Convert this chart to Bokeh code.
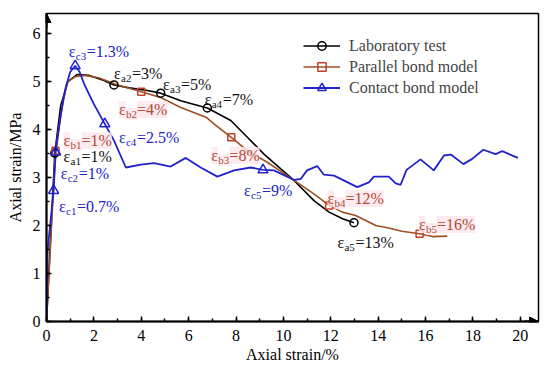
from bokeh.plotting import figure
from bokeh.models import (ColumnDataSource, Legend, LegendItem, Arrow, NormalHead,
                          SingleIntervalTicker, Range1d)
from bokeh.core.properties import value
from bokeh.embed import file_html
from bokeh.resources import INLINE

# ---------------- data ----------------
lab_x = [0, 0.1, 0.35, 0.6, 0.9, 1.3, 1.8, 2.4, 2.85, 3.5, 4.2, 4.82, 5.67, 6.2, 6.79,
         7.78, 8.48, 9.18, 9.89, 10.45, 11.29, 11.93, 12.5, 12.98]
lab_y = [0, 1.0, 3.51, 4.5, 5.0, 5.15, 5.13, 5.03, 4.93, 4.87, 4.82, 4.76, 4.6, 4.53, 4.45,
         4.19, 3.84, 3.49, 3.18, 2.94, 2.52, 2.28, 2.14, 2.06]

par_x = [0, 0.1, 0.38, 0.7, 0.9, 1.2, 1.6, 2.2, 3.0, 4.0, 4.82, 5.67, 6.76, 7.07, 7.8,
         8.48, 9.32, 10.45, 11.29, 11.93, 12.49, 13.05, 13.9, 14.45, 15.0, 15.75, 16.29, 16.92]
par_y = [0, 0.95, 3.56, 4.6, 5.0, 5.1, 5.13, 5.08, 4.93, 4.79, 4.67, 4.46, 4.25, 4.12, 3.84,
         3.56, 3.32, 2.94, 2.66, 2.42, 2.28, 2.21, 2.0, 1.95, 1.88, 1.83, 1.77, 1.78]

con_x = [0, 0.05, 0.3, 0.39, 0.6, 0.81, 1.0, 1.21, 1.4, 1.59, 2.0, 2.46, 2.85, 3.35, 3.98,
         4.54, 5.24, 5.88, 6.51, 7.21, 7.92, 8.62, 9.14, 9.6, 10.45, 10.73, 11.0, 11.43, 11.71,
         12.14, 13.12, 13.61, 13.82, 14.45, 14.74, 14.95, 15.2, 15.79, 16.35, 16.78, 17.07,
         17.6, 17.97, 18.44, 18.96, 19.24, 19.9]
con_y = [0, 1.5, 2.73, 3.53, 4.3, 4.88, 5.2, 5.33, 5.2, 4.95, 4.53, 4.12, 3.77, 3.21, 3.27,
         3.3, 3.23, 3.41, 3.21, 3.02, 3.15, 3.21, 3.16, 3.15, 2.95, 2.97, 3.15, 3.24, 3.06,
         3.04, 2.8, 2.9, 3.02, 3.02, 2.88, 2.85, 3.16, 3.38, 3.15, 3.46, 3.48,
         3.28, 3.39, 3.58, 3.49, 3.55, 3.41]

lab_mx = [0.35, 2.85, 4.82, 6.79, 12.98]
lab_my = [3.51, 4.93, 4.76, 4.45, 2.06]
par_mx = [0.38, 4.0, 7.8, 11.93, 15.75]
par_my = [3.56, 4.79, 3.84, 2.42, 1.83]
con_mx = [0.3, 0.39, 1.21, 2.46, 9.14]
con_my = [2.73, 3.53, 5.33, 4.12, 3.16]

# annotation labels
lab_tx = [0.72, 2.85, 4.92, 6.68, 12.28]
lab_ty = [3.44, 5.16, 4.95, 4.62, 1.65]
lab_sub = ["a1", "a2", "a3", "a4", "a5"]
lab_val = ["=1%", "=3%", "=5%", "=7%", "=13%"]

par_tx = [0.72, 3.06, 6.96, 11.86, 15.72]
par_ty = [3.77, 4.42, 3.46, 2.56, 2.02]
par_sub = ["b1", "b2", "b3", "b4", "b5"]
par_val = ["=1%", "=4%", "=8%", "=12%", "=16%"]

con_tx = [0.53, 0.6, 0.94, 3.06, 8.34]
con_ty = [2.4, 3.08, 5.63, 3.84, 2.73]
con_sub = ["c1", "c2", "c3", "c4", "c5"]
con_val = ["=0.7%", "=1%", "=1.3%", "=2.5%", "=9%"]

series_names = ["Laboratory test", "Parallel bond model", "Contact bond model"]

X_END, Y_END = 20.77, 6.42

BLACK = "#000000"
BROWN = "#9c4f22"
BROWN_M = "#c4402a"
BROWN_T = "#b24a30"
BLUE = "#2222cc"
FONT = "Liberation Serif"

p = figure(width=550, height=373, x_range=Range1d(0, X_END), y_range=Range1d(0, Y_END),
           output_backend="svg", toolbar_location=None,
           min_border_left=46, min_border_right=12, min_border_top=13, min_border_bottom=52)
p.grid.visible = False
p.outline_line_color = "black"
p.outline_line_width = 1.5
p.background_fill_color = "white"
p.border_fill_color = "white"

p.xaxis.ticker = SingleIntervalTicker(interval=2, num_minor_ticks=2)
p.yaxis.ticker = SingleIntervalTicker(interval=1, num_minor_ticks=2)
for ax in (p.xaxis[0], p.yaxis[0]):
    ax.axis_line_width = 2
    ax.major_tick_in = 5
    ax.major_tick_out = 0
    ax.minor_tick_in = 3
    ax.minor_tick_out = 0
    ax.major_tick_line_width = 1.5
    ax.minor_tick_line_width = 1.5
    ax.major_label_text_font = FONT
    ax.major_label_text_font_size = "16px"
    ax.major_label_text_color = "black"
    ax.axis_label_text_font = FONT
    ax.axis_label_text_font_size = "16px"
    ax.axis_label_text_font_style = "normal"
    ax.axis_label_text_color = "black"
p.xaxis.axis_label = "Axial strain/%"
p.yaxis.axis_label = "Axial strain/MPa"
p.xaxis.major_label_standoff = 8
p.xaxis.axis_label_standoff = 2
p.yaxis.major_label_standoff = 6
p.yaxis.axis_label_standoff = 6

# curves
l1 = p.line(lab_x, lab_y, line_color=BLACK, line_width=1.6)
l2 = p.line(par_x, par_y, line_color=BROWN, line_width=1.6)
l3 = p.line(con_x, con_y, line_color=BLUE, line_width=1.8)
m1 = p.scatter(lab_mx, lab_my, marker="circle", size=8, line_color=BLACK, fill_color=None, line_width=1.5)
m2 = p.scatter(par_mx, par_my, marker="square", size=7, line_color=BROWN_M, fill_color=None, line_width=1.5)
m3 = p.scatter(con_mx, con_my, marker="triangle", size=10, line_color=BLUE, fill_color=None, line_width=1.5)


def eps_labels(xs, ys, subs, vals, color, bg=None):
    src = ColumnDataSource(dict(x=xs, y=ys, sub=subs, val=vals, eps=["ε"] * len(xs)))
    common = dict(x="x", y="y", source=src, text_font=value(FONT), text_color=color,
                  text_baseline="middle", text_align="left")
    if bg is not None:
        common.update(background_fill_color=bg, background_fill_alpha=0.8)
    p.text(text="eps", text_font_size="16px", **common)
    p.text(text="sub", text_font_size="11px", x_offset=7, y_offset=4.5, **common)
    p.text(text="val", text_font_size="16px", x_offset=18, **common)


eps_labels(lab_tx, lab_ty, lab_sub, lab_val, "#111111")
eps_labels(par_tx, par_ty, par_sub, par_val, BROWN_T, bg="#fde6ee")
eps_labels(con_tx, con_ty, con_sub, con_val, BLUE)

# axis arrows
p.add_layout(Arrow(end=NormalHead(size=9, fill_color="black", line_color="black"),
                   x_start=0, y_start=Y_END - 0.3, x_end=0, y_end=Y_END,
                   line_color="black", line_width=2))
p.add_layout(Arrow(end=NormalHead(size=9, fill_color="black", line_color="black"),
                   x_start=X_END - 0.6, y_start=0, x_end=X_END, y_end=0,
                   line_color="black", line_width=2))

legend = Legend(items=[LegendItem(label=series_names[0], renderers=[l1, m1]),
                       LegendItem(label=series_names[1], renderers=[l2, m2]),
                       LegendItem(label=series_names[2], renderers=[l3, m3])],
                location=(257, 223), padding=0, margin=0, spacing=0,
                glyph_width=37, glyph_height=21, label_height=21, label_standoff=9,
                label_text_font=FONT, label_text_font_size="16px",
                border_line_color=None, background_fill_alpha=0)
p.add_layout(legend)

open("out.html", "w").write(file_html(p, INLINE))
